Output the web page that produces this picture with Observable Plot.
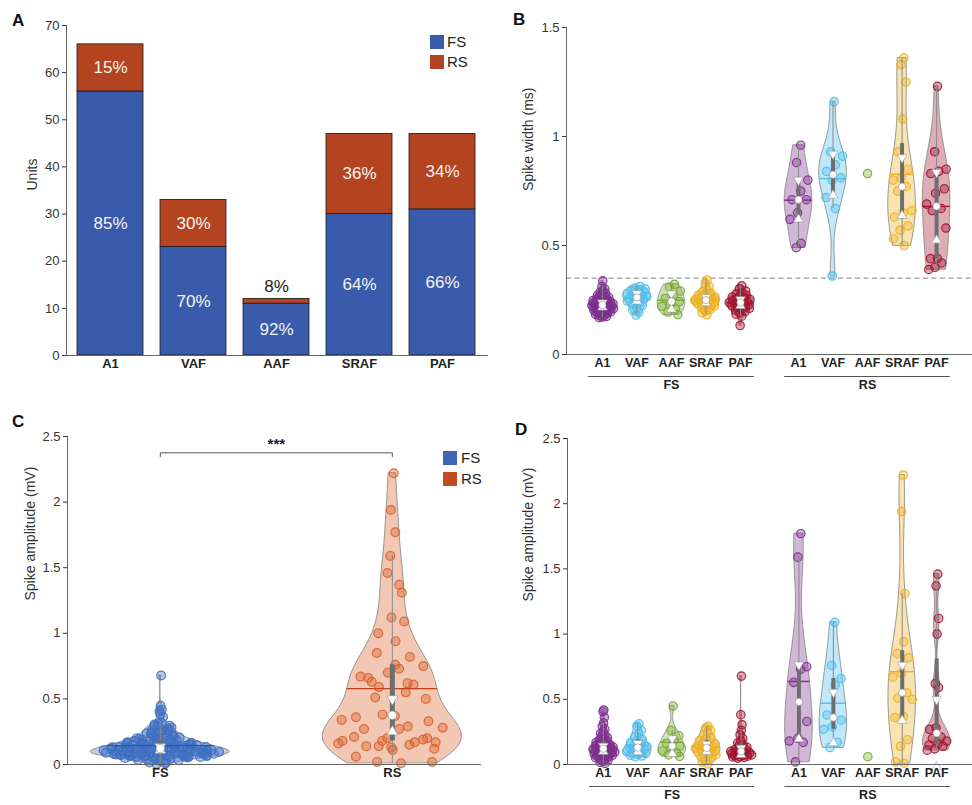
<!DOCTYPE html>
<html><head><meta charset="utf-8">
<script src="https://cdn.jsdelivr.net/npm/d3@7"></script>
<script src="https://cdn.jsdelivr.net/npm/@observablehq/plot@0.6"></script>
<style>
body{margin:0;background:#fff;font-family:"Liberation Sans",Arial,sans-serif;}
#fig{position:relative;width:972px;height:805px;overflow:hidden;background:#fff}
.panel{position:absolute}
.panel svg{max-width:none;overflow:visible;display:block}
.lett{position:absolute;font:bold 17px/17px "Liberation Sans",Arial,sans-serif;color:#111}
.legt{position:absolute;font:15px/14px "Liberation Sans",Arial,sans-serif;color:#222}
.sw{position:absolute;width:14px;height:14px}
</style></head><body><div id="fig"></div>
<script>
// ---------------- data ----------------
const areas = ["A1","VAF","AAF","SRAF","PAF"];
const types = ["FS","RS"];
const unitsFS = [56,23,11,30,31];
const unitsRS = [10,10,1,17,16];
const unitTicks = [0,10,20,30,40,50,60,70];
const widthTicks = [0,0.5,1,1.5];
const ampTicks = [0,0.5,1,1.5,2,2.5];
const fsRsThreshold = 0.35;

// spike width (ms) — FS
const wFS_A1 = [0.338,0.312,0.301,0.292,0.287,0.281,0.276,0.272,0.268,0.265,0.262,0.259,0.256,0.253,0.251,0.248,0.246,0.244,0.242,0.240,0.238,0.236,0.234,0.233,0.231,0.229,0.228,0.226,0.225,0.223,0.221,0.220,0.218,0.216,0.215,0.213,0.211,0.210,0.208,0.206,0.204,0.202,0.200,0.198,0.196,0.194,0.191,0.189,0.186,0.184,0.181,0.178,0.175,0.172,0.169,0.244];
const wFS_VAF = [0.312,0.305,0.301,0.296,0.291,0.287,0.283,0.279,0.274,0.270,0.266,0.262,0.258,0.254,0.249,0.244,0.238,0.231,0.224,0.215,0.205,0.193,0.181];
const wFS_AAF = [0.322,0.309,0.291,0.272,0.258,0.243,0.232,0.221,0.208,0.195,0.183];
const wFS_SRAF = [0.341,0.328,0.312,0.298,0.289,0.282,0.277,0.272,0.268,0.265,0.262,0.259,0.256,0.253,0.251,0.248,0.245,0.242,0.239,0.236,0.233,0.230,0.226,0.222,0.218,0.213,0.207,0.200,0.191,0.182];
const wFS_PAF = [0.315,0.302,0.291,0.284,0.278,0.272,0.268,0.264,0.260,0.256,0.253,0.250,0.247,0.244,0.241,0.238,0.235,0.232,0.229,0.226,0.223,0.220,0.216,0.212,0.208,0.203,0.198,0.192,0.185,0.176,0.133];
// spike width (ms) — RS
const wRS_A1 = [0.96,0.88,0.80,0.75,0.71,0.71,0.65,0.62,0.51,0.49];
const wRS_VAF = [1.16,0.93,0.91,0.87,0.84,0.81,0.80,0.72,0.67,0.36];
const wRS_AAF = [0.83];
const wRS_SRAF = [1.36,1.33,1.25,1.08,0.93,0.85,0.81,0.80,0.77,0.75,0.66,0.65,0.63,0.59,0.57,0.53,0.50];
const wRS_PAF = [1.23,0.93,0.85,0.84,0.83,0.76,0.74,0.69,0.67,0.66,0.58,0.44,0.44,0.42,0.40,0.39];

// spike amplitude (mV) — FS
const aFS_A1 = [0.418,0.405,0.362,0.318,0.292,0.271,0.253,0.238,0.226,0.215,0.205,0.197,0.189,0.182,0.175,0.169,0.163,0.158,0.153,0.149,0.145,0.141,0.137,0.134,0.131,0.128,0.125,0.122,0.119,0.116,0.113,0.110,0.107,0.104,0.101,0.098,0.095,0.092,0.089,0.086,0.083,0.080,0.077,0.074,0.071,0.067,0.063,0.059,0.055,0.050,0.045,0.039,0.032,0.025,0.016,0.008];
const aFS_VAF = [0.312,0.295,0.262,0.235,0.212,0.194,0.180,0.168,0.157,0.147,0.138,0.130,0.122,0.115,0.108,0.101,0.095,0.089,0.083,0.077,0.071,0.065,0.058];
const aFS_AAF = [0.448,0.262,0.221,0.189,0.163,0.141,0.122,0.104,0.089,0.074,0.062];
const aFS_SRAF = [0.292,0.281,0.262,0.241,0.223,0.208,0.195,0.184,0.174,0.165,0.157,0.150,0.143,0.137,0.131,0.125,0.119,0.113,0.107,0.101,0.095,0.089,0.082,0.075,0.067,0.058,0.047,0.034,0.018,0.004];
const aFS_PAF = [0.678,0.382,0.305,0.262,0.228,0.201,0.182,0.166,0.152,0.141,0.132,0.124,0.117,0.111,0.106,0.101,0.097,0.093,0.089,0.085,0.082,0.079,0.076,0.073,0.070,0.067,0.064,0.061,0.058,0.054,0.049];
// spike amplitude (mV) — RS
const aRS_A1 = [1.77,1.59,0.75,0.73,0.63,0.33,0.20,0.18,0.17,0.02];
const aRS_VAF = [1.09,0.76,0.66,0.61,0.38,0.34,0.29,0.27,0.17,0.13];
const aRS_AAF = [0.06];
const aRS_SRAF = [2.22,1.94,1.31,0.94,0.85,0.82,0.70,0.67,0.55,0.51,0.50,0.37,0.36,0.19,0.14,0.02,0.01];
const aRS_PAF = [1.46,1.37,1.12,1.00,0.62,0.59,0.28,0.27,0.21,0.20,0.18,0.16,0.15,0.14,0.12,0.11];

const widthLists = [[wFS_A1,wFS_VAF,wFS_AAF,wFS_SRAF,wFS_PAF],[wRS_A1,wRS_VAF,wRS_AAF,wRS_SRAF,wRS_PAF]];
const ampLists = [[aFS_A1,aFS_VAF,aFS_AAF,aFS_SRAF,aFS_PAF],[aRS_A1,aRS_VAF,aRS_AAF,aRS_SRAF,aRS_PAF]];

// ---------------- styles ----------------
const blueA = "#3A5BAC", redA = "#B3441F";
const areaColors = ["#7E2F8E","#4DBEEE","#77AC30","#EDB120","#A2142F"];
const cColors = {FS: "#4070C2", RS: "#D9622B"};
const cMean = {FS: "#2A57A8", RS: "#C4401A"};
const font = "Liberation Sans, Arial, sans-serif";
const baseStyle = {fontFamily: font, fontSize: "13px", color: "#333", background: "transparent", overflow: "visible", maxWidth: "none"};

// ---------------- helpers ----------------
function mq(s, p) { // MATLAB-style quantile on sorted array
  const n = s.length; const pos = n * p + 0.5;
  if (pos <= 1) return s[0]; if (pos >= n) return s[n - 1];
  const i = Math.floor(pos), f = pos - i; return s[i - 1] + f * (s[i] - s[i - 1]);
}
function stats(v) {
  const s = v.slice().sort(d3.ascending), n = s.length;
  const q1 = mq(s, .25), q2 = mq(s, .5), q3 = mq(s, .75), iqr = q3 - q1;
  let lw = q1 - 1.5 * iqr; lw = Math.max(lw, d3.min(s.filter(d => d >= lw)));
  let hw = q3 + 1.5 * iqr; hw = Math.min(hw, d3.max(s.filter(d => d <= hw)));
  const nt = 1.58 * iqr / Math.sqrt(n);
  return {q1, q2, q3, lw, hw, nlo: q2 - nt, nhi: q2 + nt, mean: d3.mean(s)};
}
function kde(v, m = 80) {
  const s = v.slice().sort(d3.ascending), n = s.length;
  const med = d3.median(s); let sig = d3.median(s, d => Math.abs(d - med)) / 0.6745;
  if (!(sig > 0)) sig = d3.deviation(s) || 0.01;
  const h = sig * Math.pow(4 / (3 * n), 0.2);
  const dens = y => d3.sum(s, x => Math.exp(-0.5 * ((y - x) / h) ** 2));
  const lo = s[0], hi = s[n - 1];
  const pts = d3.range(m + 1).map(i => { const y = lo + (hi - lo) * i / m; return {y, d: dens(y)}; });
  return {pts, max: d3.max(pts, p => p.d), dens};
}
const jit = i => (((i + 1) * 0.6180339887498949 + 0.13) % 1) * 2 - 1;

function violinMarks(groups, {W, r, boxW, medR, triR, fo = 0.32}) {
  const areaData = [], dotData = [], statData = [];
  for (const g of groups) {
    const n = g.values.length;
    if (n >= 2) {
      const k = kde(g.values);
      const wAt = y => k.dens(y) / k.max * W;
      for (const p of k.pts) areaData.push({key: g.key, color: g.color, y: p.y, x1: g.c - p.d / k.max * W, x2: g.c + p.d / k.max * W});
      const s = stats(g.values);
      statData.push({...s, c: g.c, mc: g.meanColor, mw: wAt(s.mean)});
      g.values.forEach((v, i) => dotData.push({x: g.c + jit(i) * wAt(v) * 0.85, y: v, color: g.color}));
    } else {
      g.values.forEach(v => dotData.push({x: g.c, y: v, color: g.color}));
    }
  }
  return [
    Plot.areaX(areaData, {y: "y", x1: "x1", x2: "x2", z: "key", fill: "color", fillOpacity: 0.35, stroke: "#7f7f7f", strokeWidth: 0.8, curve: "linear"}),
    Plot.dot(dotData, {x: "x", y: "y", r, stroke: "color", fill: "color", fillOpacity: fo, strokeWidth: 1.2, strokeOpacity: 0.9}),
    Plot.ruleY(statData, {y: "mean", x1: d => d.c - d.mw, x2: d => d.c + d.mw, stroke: "mc", strokeWidth: 1.4}),
    Plot.ruleX(statData, {x: "c", y1: "lw", y2: "hw", stroke: "#8a8a8a", strokeWidth: 1}),
    Plot.ruleX(statData, {x: "c", y1: "q1", y2: "q3", stroke: "#6e6e6e", strokeWidth: boxW}),
    Plot.dot(statData, {x: "c", y: "nhi", symbol: "triangle", rotate: 180, r: triR, fill: "white", stroke: "#9a9a9a", strokeWidth: 0.6}),
    Plot.dot(statData, {x: "c", y: "nlo", symbol: "triangle", r: triR, fill: "white", stroke: "#9a9a9a", strokeWidth: 0.6}),
    Plot.dot(statData, {x: "c", y: "q2", r: medR, fill: "white", stroke: "#888", strokeWidth: 0.6})
  ];
}

const fig = document.getElementById("fig");
function place(node, left, top) {
  const d = document.createElement("div"); d.className = "panel";
  d.style.left = left + "px"; d.style.top = top + "px"; d.appendChild(node); fig.appendChild(d);
}
function html(cls, left, top, text, extra = {}) {
  const d = document.createElement("div"); d.className = cls;
  d.style.left = left + "px"; d.style.top = top + "px"; if (text) d.textContent = text;
  Object.assign(d.style, extra); fig.appendChild(d);
}
const yAxisOpts = ticks => ({ticks, tickFormat: d => String(d), tickSize: 4, tickPadding: 3, label: null});
const yTitle = (label, offset) => Plot.text([label], {text: d => d, frameAnchor: "left", rotate: -90, dx: -offset, fontSize: 14, fill: "#333"});

// ---------------- Panel A ----------------
const barData = [
  ...areas.map((a, i) => ({area: a, type: "FS", n: unitsFS[i]})),
  ...areas.map((a, i) => ({area: a, type: "RS", n: unitsRS[i]}))
];
const pctLabels = areas.flatMap((a, i) => {
  const tot = unitsFS[i] + unitsRS[i];
  const small = unitsRS[i] < 3;
  return [
    {area: a, y: unitsFS[i] / 2, t: Math.round(unitsFS[i] / tot * 100) + "%", above: false},
    {area: a, y: small ? tot : unitsFS[i] + unitsRS[i] / 2, t: Math.round(unitsRS[i] / tot * 100) + "%", above: small}
  ];
});
const plotA = Plot.plot({
  width: 487, height: 400, marginLeft: 66, marginRight: 0, marginTop: 25, marginBottom: 45,
  style: baseStyle,
  x: {domain: areas, paddingInner: 0.2, paddingOuter: 0.12, axis: null},
  y: {domain: [0, 70], ...yAxisOpts(unitTicks)},
  color: {domain: types, range: [blueA, redA]},
  marks: [
    Plot.barY(barData, {x: "area", y: "n", fill: "type", stroke: "#1a1a1a", strokeWidth: 0.8}),
    Plot.text(pctLabels.filter(d => !d.above), {x: "area", y: "y", text: "t", fill: "#f4f4f4", fontSize: 17}),
    Plot.text(pctLabels.filter(d => d.above), {x: "area", y: "y", text: "t", fill: "#222", fontSize: 17, dy: -12}),
    Plot.frame({anchor: "left", stroke: "#666"}),
    Plot.frame({anchor: "bottom", stroke: "#666"}),
    Plot.text(areas, {x: d => d, text: d => d, frameAnchor: "bottom", dy: 12, fontWeight: "bold", fontSize: 13, fill: "#222"}),
    yTitle("Units", 34)
  ]
});
place(plotA, 0, 0);

// ---------------- Panels B & D ----------------
const gapSlots = 5.68;
const slotOf = (gi, ai) => ai + gi * gapSlots;
const catLabels = types.flatMap((t, gi) => areas.map((a, ai) => ({c: slotOf(gi, ai), name: a})));
const groupLines = types.map((t, gi) => ({t, x1: slotOf(gi, 0) - 0.4, x2: slotOf(gi, areas.length - 1) + 0.4, c: slotOf(gi, 2)}));
const groupsFor = lists => types.flatMap((t, gi) => areas.map((a, ai) => ({key: t + a, c: slotOf(gi, ai), values: lists[gi][ai], color: areaColors[ai], meanColor: areaColors[ai]})));
const xDomainBD = [-1.04, 10.72];
function axisDecor() {
  return [
    Plot.frame({anchor: "left", stroke: "#666"}),
    Plot.frame({anchor: "bottom", stroke: "#666"}),
    Plot.text(catLabels, {x: "c", text: "name", frameAnchor: "bottom", dy: 12, fontWeight: "bold", fontSize: 12.5, fill: "#222"}),
    Plot.ruleY(groupLines, {y: () => 0, x1: "x1", x2: "x2", dy: 22, stroke: "#555", strokeWidth: 1}),
    Plot.text(groupLines, {x: "c", text: "t", frameAnchor: "bottom", dy: 34, fontWeight: "bold", fontSize: 12.5, fill: "#222"})
  ];
}
const vOptsBD = {W: 0.4, r: 4.2, boxW: 4, medR: 3.7, triR: 3.6, fo: 0.36};
const plotB = Plot.plot({
  width: 492, height: 400, marginLeft: 86, marginRight: 0, marginTop: 27, marginBottom: 46,
  style: baseStyle,
  x: {domain: xDomainBD, axis: null},
  y: {domain: [0, 1.5], ...yAxisOpts(widthTicks)},
  marks: [
    Plot.ruleY([fsRsThreshold], {stroke: "#9a9a9a", strokeWidth: 1.2, strokeDasharray: "5,3.5"}),
    ...violinMarks(groupsFor(widthLists), vOptsBD),
    ...axisDecor(),
    yTitle("Spike width (ms)", 38)
  ]
});
place(plotB, 480, 0);

const plotD = Plot.plot({
  width: 492, height: 405, marginLeft: 87, marginRight: 0, marginTop: 38, marginBottom: 41,
  style: baseStyle,
  x: {domain: xDomainBD, axis: null},
  y: {domain: [0, 2.5], ...yAxisOpts(ampTicks)},
  marks: [
    ...violinMarks(groupsFor(ampLists), vOptsBD),
    ...axisDecor(),
    yTitle("Spike amplitude (mV)", 39)
  ]
});
place(plotD, 480, 400);

// ---------------- Panel C ----------------
const cGroups = types.map((t, gi) => ({key: t, c: gi, values: ampLists[gi].flat(), color: cColors[t], meanColor: cMean[t]}));
const allAmp = cGroups.flatMap(g => g.values);
const sig = {a: 0, b: 1, label: "***"};
const yb = d3.max(allAmp) * 1.07, tickH = 0.03;
const bracket = [{x: sig.a, y: yb - tickH}, {x: sig.a, y: yb}, {x: sig.b, y: yb}, {x: sig.b, y: yb - tickH}];
const plotC = Plot.plot({
  width: 480, height: 405, marginLeft: 67, marginRight: 0, marginTop: 36, marginBottom: 41,
  style: baseStyle,
  x: {domain: [-0.40, 1.38], axis: null},
  y: {domain: [0, 2.5], ...yAxisOpts(ampTicks)},
  marks: [
    ...violinMarks(cGroups, {W: 0.3, r: 4.4, boxW: 5, medR: 4.3, triR: 4, fo: 0.4}),
    Plot.frame({anchor: "left", stroke: "#666"}),
    Plot.frame({anchor: "bottom", stroke: "#666"}),
    Plot.text(cGroups, {x: "c", text: "key", frameAnchor: "bottom", dy: 12, fontWeight: "bold", fontSize: 13, fill: "#222"}),
    Plot.line(bracket, {x: "x", y: "y", stroke: "#555", strokeWidth: 1}),
    Plot.text([sig], {x: d => (d.a + d.b) / 2, y: () => yb, text: "label", dy: -9, fontSize: 15, fontWeight: "bold", fill: "#222"}),
    yTitle("Spike amplitude (mV)", 37)
  ]
});
place(plotC, 0, 400);

// ---------------- legends & panel letters ----------------
html("sw", 430, 35, "", {background: blueA});
html("sw", 430, 55, "", {background: redA});
html("legt", 447, 35, "FS");
html("legt", 447, 55, "RS");
html("sw", 443, 451, "", {background: "#4064B8"});
html("sw", 443, 472, "", {background: "#C24B22"});
html("legt", 461, 451, "FS");
html("legt", 461, 472, "RS");
html("lett", 12, 12, "A");
html("lett", 513, 11, "B");
html("lett", 12, 413, "C");
html("lett", 515, 421, "D");
</script></body></html>
